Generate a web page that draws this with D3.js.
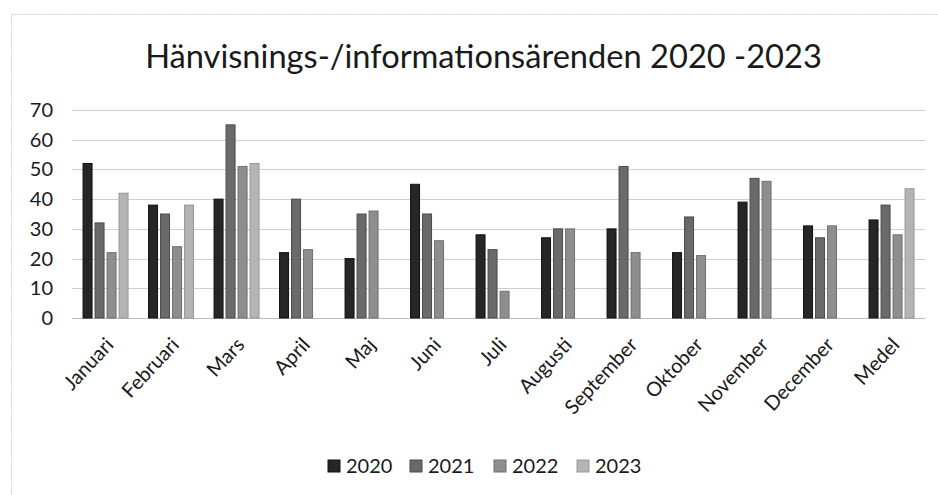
<!DOCTYPE html>
<html>
<head>
<meta charset="utf-8">
<script src="https://cdn.jsdelivr.net/npm/d3@7"></script>
<style>
  body { margin: 0; background: #fff; }
  svg text { font-family: Lato, "Open Sans", sans-serif; fill: #1a1a1a; }
</style>
</head>
<body>
<svg id="chart" width="938" height="495"></svg>
<script>
// chart data
const months = ["Januari", "Februari", "Mars", "April", "Maj", "Juni", "Juli",
    "Augusti", "September", "Oktober", "November", "December", "Medel"];
const years = ["2020", "2021", "2022", "2023"];
const v2020 = [52, 38, 40, 22, 20, 45, 28, 27, 30, 22, 39, 31, 33];
const v2021 = [32, 35, 65, 40, 35, 35, 23, 30, 51, 34, 47, 27, 38];
const v2022 = [22, 24, 51, 23, 36, 26, 9, 30, 22, 21, 46, 31, 28];
const v2023 = [42, 38, 52, null, null, null, null, null, null, null, null, null, 43.5];
const yTicks = [0, 10, 20, 30, 40, 50, 60, 70];
const title = "Hänvisnings-/informationsärenden 2020 -2023";

const series = [v2020, v2021, v2022, v2023];
const colours = ["#262626", "#6a6a6a", "#8e8e8e", "#b4b4b4"];
const strokes = ["#111", "#4a4a4a", "#707070", "#979797"];

const svg = d3.select("#chart");

// frame of the chart area
svg.append("rect")
    .attr("x", 11.5).attr("y", 14.5)
    .attr("width", 940).attr("height", 490)
    .attr("fill", "none")
    .attr("stroke", "#d2d2d2")
    .attr("stroke-dasharray", "2,1");

const x0 = d3.scaleBand()
    .domain(months)
    .range([72.8, 924.3]);

const x1 = d3.scaleBand()
    .domain(years)
    .range([0, 45])
    .paddingInner(0.25);

const y = d3.scaleLinear()
    .domain([0, 70])
    .range([318, 110]);

// horizontal grid lines
svg.append("g")
    .selectAll("line")
    .data(yTicks)
  .enter()
  .append("line")
    .attr("x1", 72)
    .attr("x2", 925)
    .attr("y1", function (d) { return Math.round(y(d)) + 0.5; })
    .attr("y2", function (d) { return Math.round(y(d)) + 0.5; })
    .attr("stroke", function (d) { return d === 0 ? "#bdbdbd" : "#cfcfcf"; })
    .attr("stroke-width", 1);

// y labels
svg.append("g")
    .selectAll("text")
    .data(yTicks)
  .enter()
  .append("text")
    .attr("x", 53)
    .attr("y", function (d) { return y(d); })
    .attr("dy", "0.35em")
    .attr("text-anchor", "end")
    .style("font-size", "20px")
    .text(function (d) { return d; });

// bars
const groups = svg.append("g")
    .selectAll("g")
    .data(months)
  .enter()
  .append("g")
    .attr("transform", function (m) {
        return "translate(" + (x0(m) + (x0.bandwidth() - 45) / 2) + ",0)";
    });

groups.selectAll("rect")
    .data(function (m, i) {
        return years.map(function (yr, k) {
            return { year: yr, k: k, value: series[k][i] };
        }).filter(function (d) { return d.value != null; });
    })
  .enter()
  .append("rect")
    .attr("x", function (d) { return x1(d.year); })
    .attr("y", function (d) { return y(d.value); })
    .attr("width", x1.bandwidth())
    .attr("height", function (d) { return y(0) - y(d.value); })
    .attr("fill", function (d) { return colours[d.k]; })
    .attr("stroke", function (d) { return strokes[d.k]; })
    .attr("stroke-width", 1);

// x labels, rotated
svg.append("g")
    .selectAll("text")
    .data(months)
  .enter()
  .append("text")
    .attr("transform", function (m) {
        return "translate(" + (x0(m) + x0.bandwidth() / 2 + 4) + ",341) rotate(-47)";
    })
    .attr("text-anchor", "end")
    .attr("dy", "0.35em")
    .style("font-size", "20px")
    .text(function (m) { return m; });

// title, sized to the reference width
const t = svg.append("text")
    .attr("x", 483.5)
    .attr("y", 68)
    .attr("text-anchor", "middle")
    .style("font-size", "30px")
    .text(title);
const tw = t.node().getComputedTextLength();
t.style("font-size", (30 * 677 / tw) + "px");

// legend
const legendX = [328, 410, 494, 577];
const legend = svg.append("g")
    .selectAll("g")
    .data(years)
  .enter()
  .append("g")
    .attr("transform", function (d, i) { return "translate(" + legendX[i] + ",460)"; });

legend.append("rect")
    .attr("width", 12)
    .attr("height", 12)
    .attr("fill", function (d, i) { return colours[i]; })
    .attr("stroke", function (d, i) { return strokes[i]; });

legend.append("text")
    .attr("x", 18)
    .attr("y", 6)
    .attr("dy", "0.36em")
    .style("font-size", "20px")
    .text(function (d) { return d; });
</script>
</body>
</html>
